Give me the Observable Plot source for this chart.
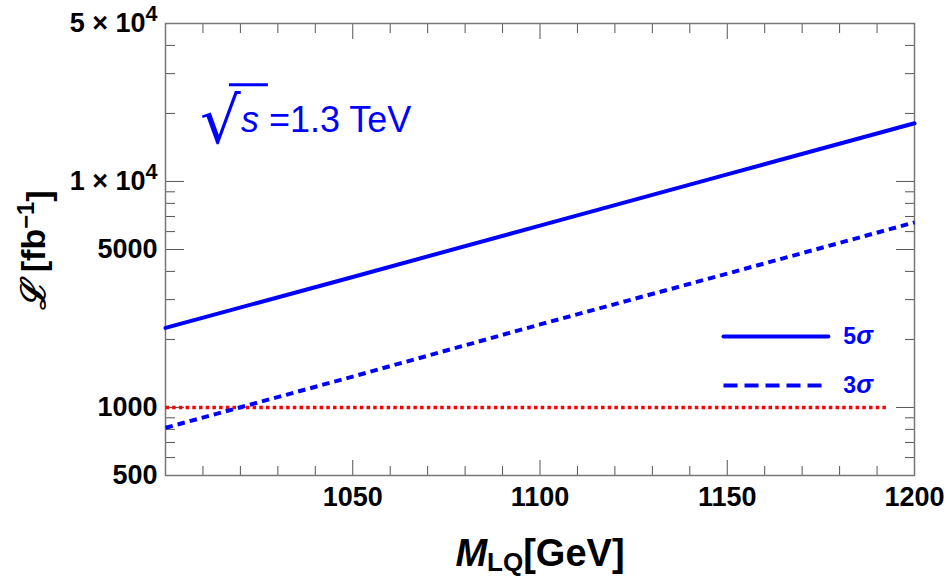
<!DOCTYPE html>
<html><head><meta charset="utf-8">
<script src="https://cdn.jsdelivr.net/npm/d3@7"></script>
<script src="https://cdn.jsdelivr.net/npm/@observablehq/plot@0.6"></script>
<style>
body{margin:0;background:#fff}
</style>
</head><body><div id="chart"></div>
<script>
// ---- data ----
const massGeV     = [1000, 1050, 1100, 1150, 1200];
const lumi5sigma  = [2250, 3780, 6380, 10750, 18100];
const lumi3sigma  = [813, 1370, 2330, 3910, 6590];
const refMass     = [1000, 1193];
const refLumi     = [1000, 1000];

const yMajorTicks = [1000, 5000, 10000, 50000];
const yMinorTicks = [600, 700, 800, 900, 2000, 3000, 4000, 6000, 7000, 8000, 9000, 20000, 30000, 40000];
const yLabelTicks = [500, 1000, 5000, 10000, 50000];
const yLabelText  = ["500", "1000", "5000", "1 × 10^4", "5 × 10^4"];
const xMajorTicks = [1050, 1100, 1150];
const xMinorTicks = [1010, 1020, 1030, 1040, 1060, 1070, 1080, 1090, 1110, 1120, 1130, 1140, 1160, 1170, 1180, 1190];
const xLabelTicks = [1050, 1100, 1150, 1200];

const legendLabels  = ["5σ", "3σ"];
const legendLumi    = [2060, 1250];
const legendMass    = [1149, 1177];
const legendTextMass = 1181;

const annotMass = 1020;   // left of "s"
const annotLumi = 16500;  // baseline

const blue = "#0000ff", red = "#ff0000";

const solid = massGeV.map((m, i) => ({m, L: lumi5sigma[i]}));
const dashed = massGeV.map((m, i) => ({m, L: lumi3sigma[i]}));
const ref = refMass.map((m, i) => ({m, L: refLumi[i]}));
const legSolid = legendMass.map(m => ({m, L: legendLumi[0]}));
const legDashed = legendMass.map(m => ({m, L: legendLumi[1]}));
const legText = legendLabels.map((t, i) => ({t, m: legendTextMass, L: legendLumi[i]}));

const tickStroke = "#555";
const plot = Plot.plot({
  width: 947, height: 579,
  marginLeft: 165, marginRight: 33, marginTop: 23, marginBottom: 104,
  x: {domain: [1000, 1200]},
  y: {type: "log", domain: [500, 50000]},
  style: {fontFamily: "'Liberation Sans', Arial, sans-serif", background: "white"},
  marks: [
    // ticks (inward)
    Plot.axisY(yMajorTicks, {anchor: "left", tickSize: -19, fill: "none", stroke: tickStroke, label: null}),
    Plot.axisY(yMinorTicks, {anchor: "left", tickSize: -10, fill: "none", stroke: tickStroke, label: null}),
    Plot.axisY(yMajorTicks, {anchor: "right", tickSize: -19, fill: "none", stroke: tickStroke, label: null}),
    Plot.axisY(yMinorTicks, {anchor: "right", tickSize: -10, fill: "none", stroke: tickStroke, label: null}),
    Plot.axisX(xMajorTicks, {anchor: "bottom", tickSize: -15, fill: "none", stroke: tickStroke, label: null}),
    Plot.axisX(xMinorTicks, {anchor: "bottom", tickSize: -9, fill: "none", stroke: tickStroke, label: null}),
    Plot.axisX(xMajorTicks, {anchor: "top", tickSize: -15, fill: "none", stroke: tickStroke, label: null}),
    Plot.axisX(xMinorTicks, {anchor: "top", tickSize: -9, fill: "none", stroke: tickStroke, label: null}),
    // tick labels
    Plot.axisY(yLabelTicks, {anchor: "left", tickSize: 0, tickPadding: 8, label: null,
      tickFormat: d => yLabelText[yLabelTicks.indexOf(d)], fontSize: 27, fontWeight: "bold", fill: "black"}),
    Plot.axisX(xLabelTicks, {anchor: "bottom", tickSize: 0, tickPadding: 11, label: null,
      tickFormat: d => String(d), fontSize: 27, fontWeight: "bold", fill: "black"}),
    Plot.frame({stroke: "#777", strokeWidth: 1.5}),
    // data
    Plot.line(ref, {x: "m", y: "L", stroke: red, strokeWidth: 3.5, strokeDasharray: "3.5,3.2", strokeLinecap: "butt"}),
    Plot.line(solid, {x: "m", y: "L", stroke: blue, strokeWidth: 4}),
    Plot.line(dashed, {x: "m", y: "L", stroke: blue, strokeWidth: 4, strokeDasharray: "7.5,5", strokeLinecap: "butt"}),
    // legend
    Plot.line(legSolid, {x: "m", y: "L", stroke: blue, strokeWidth: 4}),
    Plot.line(legDashed, {x: "m", y: "L", stroke: blue, strokeWidth: 4, strokeDasharray: "14,7", strokeLinecap: "butt"}),
    Plot.text(legText, {x: "m", y: "L", text: "t", textAnchor: "start", fill: blue, fontSize: 23,
      fontWeight: "bold"})
  ]
});
document.getElementById("chart").appendChild(plot);

const svg = d3.select(plot);

// superscripts on tick labels, italic sigma in legend
svg.selectAll("text").each(function() {
  const el = d3.select(this);
  const tspans = el.selectAll("tspan");
  const target = tspans.empty() ? el : tspans;
  target.each(function() {
    const t = this.textContent;
    const m = /^(.*)\^(.*)$/.exec(t);
    if (m) {
      const node = d3.select(this);
      node.text(m[1]);
      node.append("tspan").attr("dy", "-0.5em").attr("font-size", "0.8em").text(m[2]);
    }
    const s = /^(\d)σ$/.exec(t);
    if (s) {
      const node = d3.select(this);
      node.text(s[1]);
      node.append("tspan").attr("font-style", "italic").attr("font-size", "1.1em").text("σ");
    }
  });
});

const sx = plot.scale("x"), sy = plot.scale("y");
const ax = sx.apply(annotMass), ay = sy.apply(annotLumi);
// radical sign + vinculum
svg.append("text").attr("x", ax - 40).attr("y", ay + 11).attr("text-anchor", "start")
  .attr("font-family", "'DejaVu Sans', sans-serif").attr("font-size", 64).attr("fill", blue).text("√");
svg.append("line").attr("x1", ax - 11).attr("x2", ax + 28).attr("y1", ay - 47).attr("y2", ay - 47)
  .attr("stroke", blue).attr("stroke-width", 3);
const at = svg.append("text").attr("x", ax + 1).attr("y", ay).attr("text-anchor", "start")
  .attr("font-family", "'Liberation Sans', Arial, sans-serif").attr("font-size", 36).attr("fill", blue);
at.append("tspan").attr("font-style", "italic").text("s");
at.append("tspan").text(" =1.3 TeV");

// axis titles
const yt = svg.append("text").attr("transform", "translate(45,250) rotate(-90)")
  .attr("text-anchor", "middle").attr("font-family", "'Liberation Sans', 'DejaVu Sans', sans-serif")
  .attr("font-size", 34).attr("font-weight", "bold").attr("fill", "black");
yt.append("tspan").attr("font-family", "'DejaVu Serif', serif").attr("font-style", "italic").text("ℒ");
yt.append("tspan").text(" [fb");
yt.append("tspan").attr("dy", "-0.45em").attr("font-size", "0.7em").text("−1");
yt.append("tspan").attr("dy", "0.45em").text("]");

const xt = svg.append("text").attr("x", 540).attr("y", 566)
  .attr("text-anchor", "middle").attr("font-family", "'Liberation Sans', sans-serif")
  .attr("font-size", 38).attr("font-weight", "bold").attr("fill", "black");
xt.append("tspan").attr("font-style", "italic").text("M");
xt.append("tspan").attr("font-size", 26).attr("dy", 5).text("LQ");
xt.append("tspan").attr("dy", -5).text("[GeV]");
</script></body></html>
